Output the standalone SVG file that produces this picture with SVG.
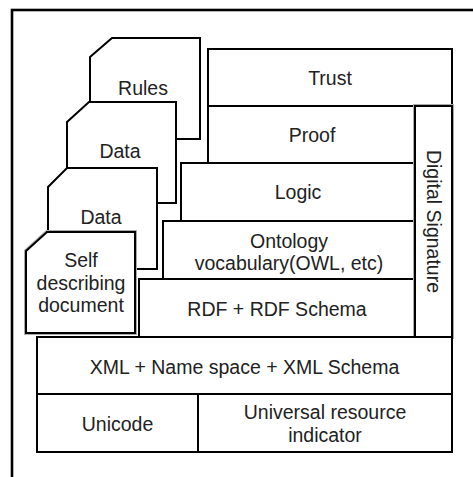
<svg xmlns="http://www.w3.org/2000/svg" width="473" height="477" viewBox="0 0 473 477">
<style>
.b{fill:#fff;stroke:#000;stroke-width:2}
.s{fill:none;stroke:#aaa;stroke-width:4}
.t{font-family:"Liberation Sans",Arial,sans-serif;font-size:19.5px;fill:#222;text-anchor:middle}
</style>
<rect x="0" y="0" width="473" height="477" fill="#fff"/>
<rect x="12" y="10" width="480" height="480" fill="#fff" stroke="#000" stroke-width="2.6"/>
<g id="connectors"></g>
<g id="rules"><polygon class="b" points="90,57 112,38 200,38 200,139 90,139"/><text class="t" x="143" y="95">Rules</text></g>
<g id="data1"><polygon class="b" points="67,122 89,102 176,102 176,203 67,203"/><text class="t" x="120" y="158">Data</text></g>
<g id="data2"><polygon class="b" points="48,187 67,168 157,168 157,269 48,269"/><text class="t" x="101" y="224">Data</text></g>
<g id="self"><polygon class="s" points="26,251 47,232 135,232 135,333 26,333"/><polygon class="b" points="26,251 47,232 135,232 135,333 26,333"/><text class="t" x="81" y="267">Self</text><text class="t" x="81" y="290">describing</text><text class="t" x="81" y="312">document</text></g>
<g id="trust"><rect class="b" x="208" y="49" width="244" height="57"/><text class="t" x="330" y="85">Trust</text></g>
<g id="proof"><rect class="b" x="208" y="106" width="207" height="57"/><text class="t" x="312" y="141.5">Proof</text></g>
<g id="logic"><rect class="b" x="181" y="163" width="234" height="58"/><text class="t" x="298" y="199">Logic</text></g>
<g id="ontology"><rect class="b" x="163" y="221" width="252" height="58"/><text class="t" x="289" y="248">Ontology</text><text class="t" x="289" y="270">vocabulary(OWL, etc)</text></g>
<g id="rdf"><rect class="b" x="139" y="279" width="276" height="58"/><text class="t" x="277" y="316">RDF + RDF Schema</text></g>
<g id="digsig"><rect class="s" x="415" y="106" width="37" height="231"/><rect class="b" x="415" y="106" width="37" height="231"/><text class="t" transform="translate(426.5,221.5) rotate(90)" x="0" y="0">Digital Signature</text></g>
<g id="xml"><rect class="b" x="37" y="337" width="415" height="57"/><text class="t" x="244.5" y="374">XML + Name space + XML Schema</text></g>
<g id="unicode"><rect class="b" x="37" y="394" width="161" height="58"/><text class="t" x="117.5" y="431">Unicode</text></g>
<g id="uri"><rect class="b" x="198" y="394" width="254" height="58"/><text class="t" x="325" y="419">Universal resource</text><text class="t" x="325" y="442">indicator</text></g>
</svg>
